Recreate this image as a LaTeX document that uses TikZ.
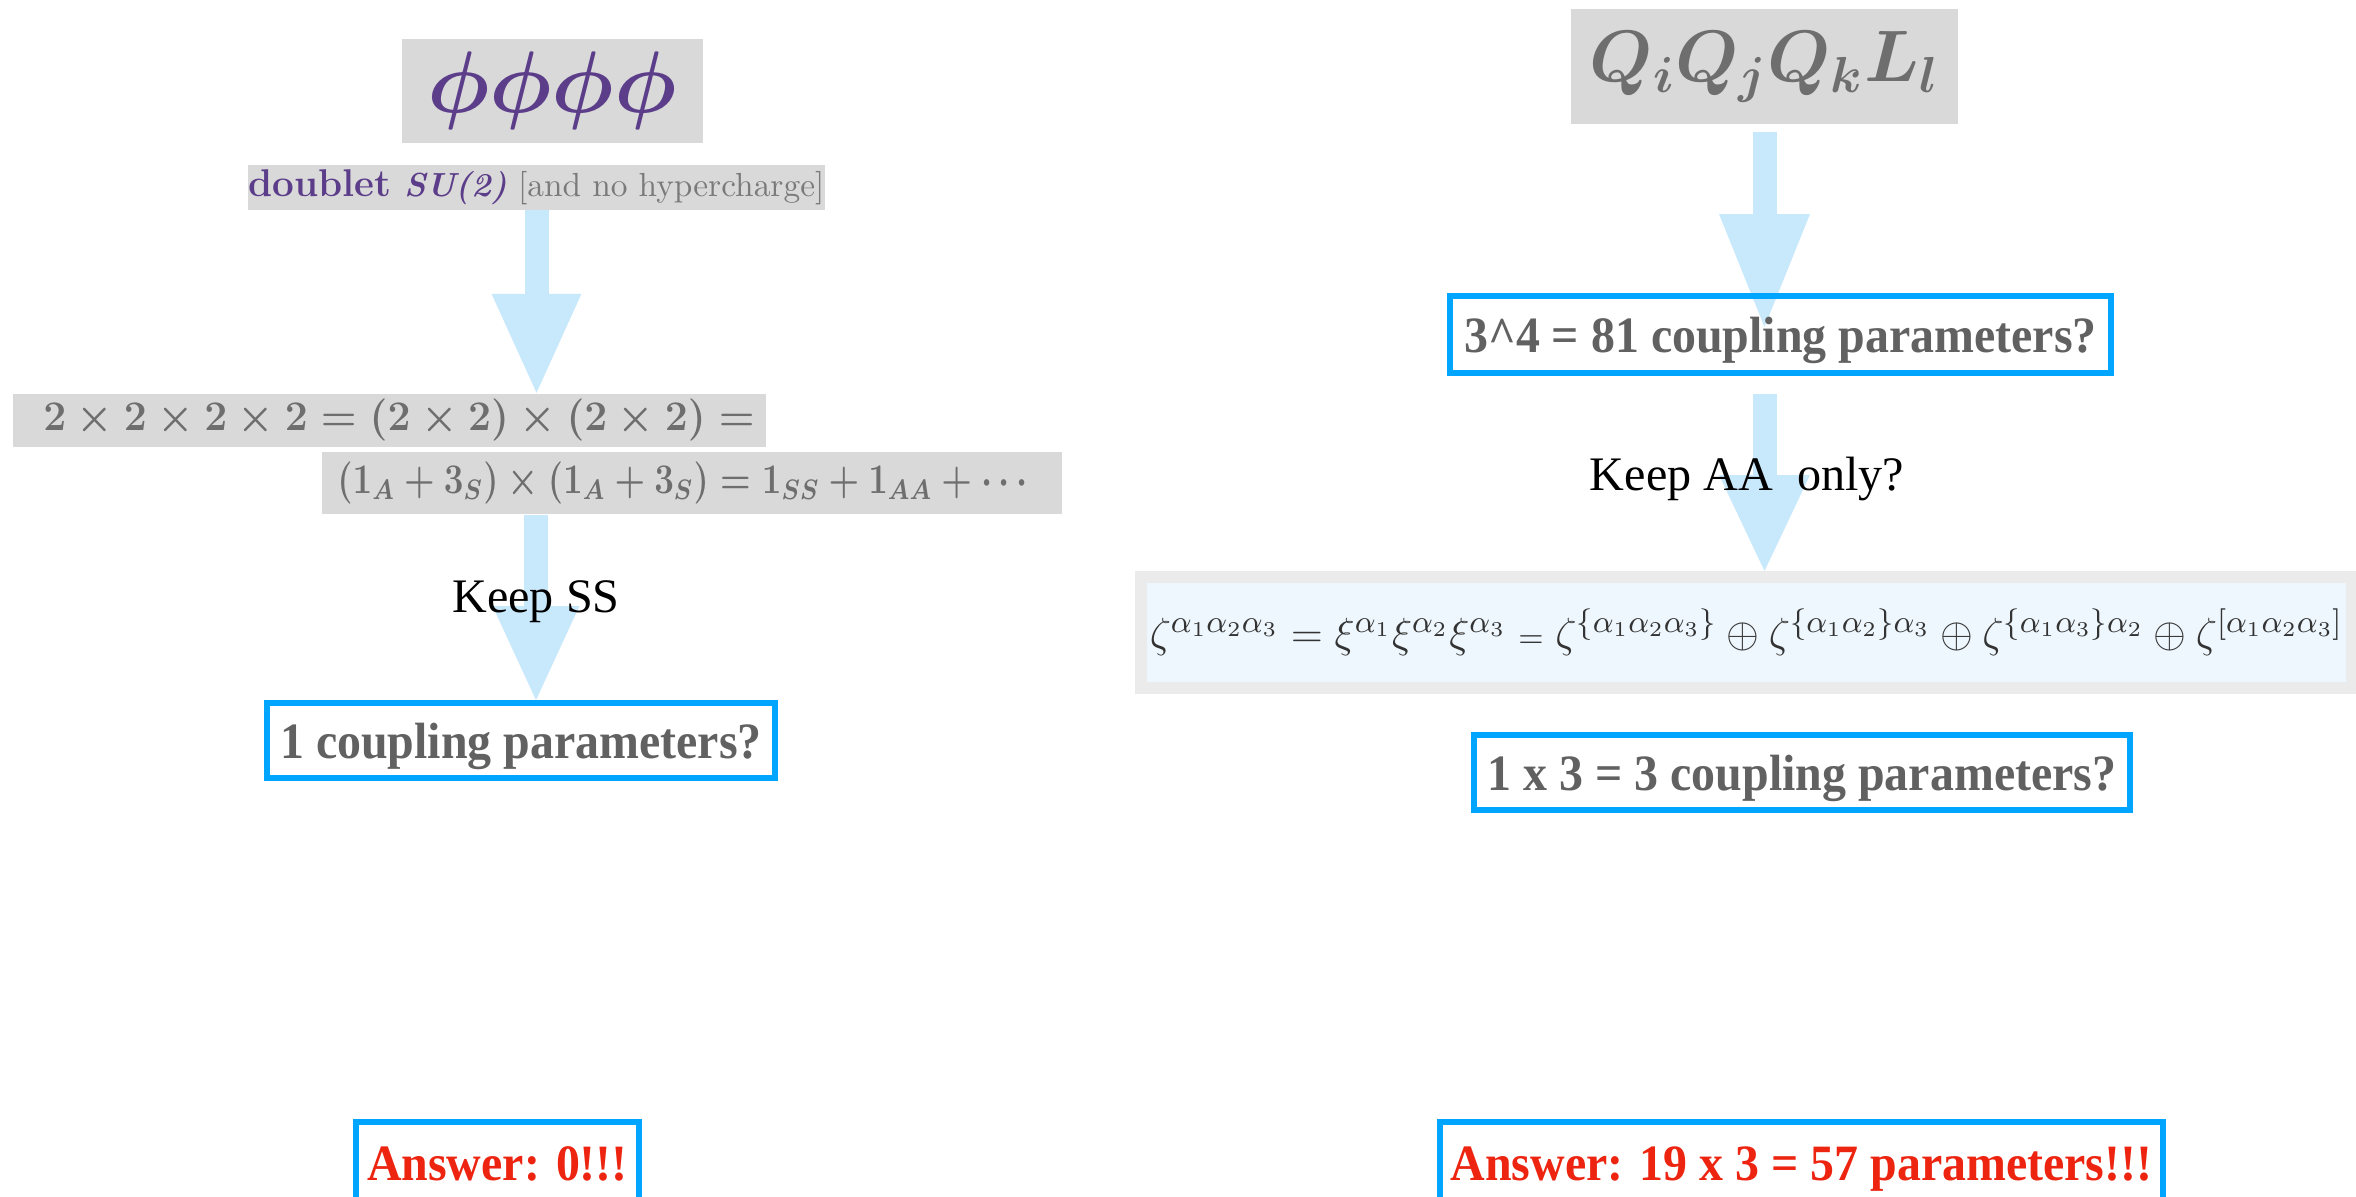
\documentclass[tikz,border=0pt]{standalone}
\usepackage{amsmath}
\usepackage{graphicx}
\usepackage{fontspec}
\usetikzlibrary{arrows.meta,positioning,calc}
\newfontfamily\timesf{Liberation Serif}
\definecolor{arrowblue}{HTML}{C8E8FC}
\definecolor{boxblue}{HTML}{00A5FF}
\definecolor{panelgray}{HTML}{D9D9D9}
\definecolor{txtgray}{HTML}{616161}
\definecolor{mathgray}{HTML}{6E6E6E}
\definecolor{plum}{HTML}{5C3D8A}
\definecolor{notegray}{HTML}{7A7A7A}
\definecolor{answerred}{HTML}{EC2410}
\definecolor{zetaframe}{HTML}{EBEBEB}
\definecolor{zetafill}{HTML}{EEF7FD}
\pgfdeclarelayer{background}
\pgfsetlayers{background,main}
\newcommand{\bigsize}{\fontsize{23}{26}\selectfont}
\newcommand{\mathsize}{\fontsize{11.5}{13}\selectfont}
\newcommand{\narrow}[1]{\scalebox{0.94}[1]{#1}}

\begin{document}
\begin{tikzpicture}[
  x=0.1mm, y=-0.1mm,
  greybox/.style={fill=panelgray, inner sep=0pt},
  askbox/.style={draw=boxblue, line width=0.6mm, inner sep=0pt, text depth=0pt, text=txtgray, font=\timesf\bfseries\fontsize{14.5}{17}\selectfont},
  answer/.style={askbox, text=answerred},
  keep/.style={anchor=base, inner sep=0pt, font=\timesf\fontsize{13.7}{16}\selectfont},
  flow/.style={arrowblue, line width=2.4mm, -{Triangle[width=9mm,length=9.9mm,line width=0pt]}},
]
\useasboundingbox (0,0) rectangle (2356,1196);
\clip (0,0) rectangle (2356,1196);

% left column: phi^4
\node[greybox, minimum width=30.1mm, minimum height=10.4mm, text=plum, font=\bigsize] (phis) at (552,91) {$\boldsymbol{\phi\phi\phi\phi}$};
\node[greybox, minimum width=57.7mm, minimum height=4.5mm, font=\fontsize{9.5}{11}\selectfont] (doublet) at (536.5,187) {{\color{plum}\bfseries{\fontsize{11}{11}\selectfont doublet} \itshape SU(2)} {\color{notegray}[and no hypercharge]}};
\node[greybox, minimum width=75.3mm, minimum height=5.3mm, text=mathgray, font=\mathsize] (prod) at (389,420) {\hspace*{2mm}\scalebox{0.97}[1]{$\boldsymbol{2\times2\times2\times2=(2\times2)\times(2\times2)=}$}};
\node[greybox, minimum width=74mm, minimum height=6.2mm, text=mathgray, font=\mathsize] (pairs) at (692,483) {\scalebox{0.83}[1]{$\boldsymbol{(1_A+3_S)\times(1_A+3_S)=1_{SS}+1_{AA}+\cdots}$}\hspace*{1.2mm}};
\node[keep] (keepss) at (536,612) {Keep SS};
\node[askbox, minimum width=50.8mm, minimum height=7.5mm] (single) at (521,740.5) {\narrow{1 coupling parameters?}};
\node[answer, minimum width=28.3mm, minimum height=8.3mm] (zero) at (497.5,1163.5) {\narrow{Answer: 0!!!}};

% right column: QQQL
\node[greybox, minimum width=38.7mm, minimum height=11.5mm, text=mathgray, font=\fontsize{20.5}{24}\selectfont] (qbox) at (1764.5,66.5) {$\boldsymbol{Q_iQ_jQ_kL_l}$};
\node[askbox, minimum width=66.1mm, minimum height=7.7mm] (count) at (1780.5,334.5) {\narrow{3\^{}4 = 81 coupling parameters?}};
\node[keep] (keepaa) at (1747,490) {Keep AA~ only?};
\node[fill=zetafill, draw=zetaframe, line width=1.2mm, inner sep=0pt, minimum width=121.1mm, minimum height=11.1mm, text=black!80, font=\fontsize{12.3}{15}\selectfont] (zeta) at (1746.5,632.5) {$\zeta^{\alpha_1\alpha_2\alpha_3}=\xi^{\alpha_1}\xi^{\alpha_2}\xi^{\alpha_3}\mathrel{\scriptstyle=}\zeta^{\{\alpha_1\alpha_2\alpha_3\}}\oplus\zeta^{\{\alpha_1\alpha_2\}\alpha_3}\oplus\zeta^{\{\alpha_1\alpha_3\}\alpha_2}\oplus\zeta^{[\alpha_1\alpha_2\alpha_3]}$};
\node[askbox, minimum width=65.6mm, minimum height=7.5mm] (three) at (1802,772.5) {\narrow{1 x 3 = 3 coupling parameters?}};
\node[answer, minimum width=72.3mm, minimum height=8.3mm] (fiftyseven) at (1801.5,1163.5) {\narrow{Answer: 19 x 3 = 57 parameters!!!}};

% arrows
\begin{pgfonlayer}{background}
\draw[flow] (doublet.south) -- (doublet.south |- prod.north);
\draw[flow, -{Triangle[width=8.7mm,length=9.4mm,line width=0pt]}] (keepss |- pairs.south) -- (keepss |- single.north);
\draw[flow, shorten <=0.7mm, -{Triangle[width=9.1mm,length=11.3mm,line width=0pt]}] (qbox.south) -- ($(qbox.south |- count.north)+(0,34)$);
\draw[flow, shorten <=1.8mm, -{Triangle[width=9.1mm,length=9.6mm,line width=0pt]}] (qbox.south |- count.south) -- (qbox.south |- zeta.north);
\end{pgfonlayer}
\end{tikzpicture}
\end{document}
